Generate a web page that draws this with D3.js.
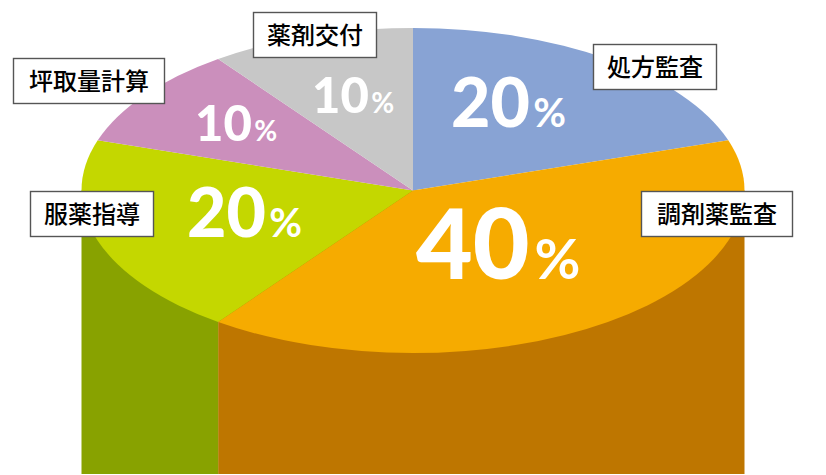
<!DOCTYPE html>
<html>
<head>
<meta charset="utf-8">
<script src="https://cdn.jsdelivr.net/npm/d3@7"></script>
<style>
html, body { margin: 0; padding: 0; background: #fff; }
svg { display: block; }
</style>
</head>
<body>
<div id="chart"></div>
<script>
// data, clockwise from the top
const categories = ["処方監査", "調剤薬監査", "服薬指導", "坪取量計算", "薬剤交付"];
const shares = [20, 40, 20, 10, 10];

const topColors = ["#88a3d4", "#f6ab00", "#c4d700", "#cb8fbc", "#c7c7c7"];
const wallColors = ["#6d82a9", "#be7600", "#88a200", "#a2728f", "#9f9f9f"];

// where the texts sit: box left, box top, box width / number left, baseline, size, % size
const boxSpots = [[593, 44, 124], [641, 191, 152], [30, 191, 124], [13, 58, 152], [253, 12, 124]];
const numSpots = [[451, 127, 68, 40], [416, 279, 98, 56], [187, 237, 68, 40], [195, 141, 49, 28], [312, 113, 49, 28]];

const width = 826, height = 475;
const cx = 413, cy = 190.5, rx = 331.5, ry = 162.5, bottom = 474;
const boxHeight = 46;

const svg = d3.select("#chart").append("svg")
    .attr("width", width)
    .attr("height", height)
    .attr("viewBox", "0 0 " + width + " " + height);

const pie = d3.pie().sort(null)(shares);

const x = d3.scaleLinear().domain([-1, 1]).range([cx - rx, cx + rx]);

// side of the cylinder: only the front half (90deg to 270deg) can be seen
pie.forEach(function(d, i) {
    const from = Math.max(d.startAngle, Math.PI / 2);
    const to = Math.min(d.endAngle, Math.PI * 1.5);
    if (from >= to) return;
    const x0 = x(Math.sin(to)), x1 = x(Math.sin(from));
    svg.append("rect")
        .attr("x", x0)
        .attr("y", cy)
        .attr("width", x1 - x0)
        .attr("height", bottom - cy)
        .attr("fill", wallColors[i]);
});

// top of the cylinder, a circle squashed into an ellipse
const arc = d3.arc().innerRadius(0).outerRadius(rx);
svg.append("g")
    .attr("transform", "translate(" + cx + "," + cy + ") scale(1," + (ry / rx) + ")")
    .selectAll("path")
    .data(pie)
    .enter()
    .append("path")
    .attr("d", arc)
    .attr("fill", function(d, i) { return topColors[i]; });

// percentages
const nums = svg.selectAll(".num")
    .data(shares)
    .enter()
    .append("text")
    .attr("class", "num")
    .attr("x", function(d, i) { return numSpots[i][0]; })
    .attr("y", function(d, i) { return numSpots[i][1]; })
    .attr("fill", "#fff")
    .attr("font-family", "Lato, sans-serif")
    .attr("font-weight", 900);
nums.append("tspan")
    .attr("font-size", function(d, i) { return numSpots[i][2]; })
    .text(function(d) { return d; });
nums.append("tspan")
    .attr("font-size", function(d, i) { return numSpots[i][3]; })
    .attr("font-weight", 700)
    .attr("dx", function(d, i) { return numSpots[i][2] * 0.05; })
    .text("%");

// name boxes
const boxes = svg.selectAll(".box")
    .data(categories)
    .enter()
    .append("g")
    .attr("class", "box")
    .attr("transform", function(d, i) { return "translate(" + boxSpots[i][0] + "," + boxSpots[i][1] + ")"; });
boxes.append("rect")
    .attr("x", 0.5)
    .attr("y", 0.5)
    .attr("width", function(d, i) { return boxSpots[i][2] - 1; })
    .attr("height", boxHeight - 1)
    .attr("fill", "#fff")
    .attr("stroke", "#555")
    .attr("stroke-width", 1.4);
boxes.append("text")
    .attr("x", function(d, i) { return boxSpots[i][2] / 2; })
    .attr("y", boxHeight / 2 + 9)
    .attr("text-anchor", "middle")
    .attr("font-family", "'Noto Sans CJK JP', sans-serif")
    .attr("font-weight", 500)
    .attr("font-size", 24)
    .attr("fill", "#000")
    .text(function(d) { return d; });
</script>
</body>
</html>
